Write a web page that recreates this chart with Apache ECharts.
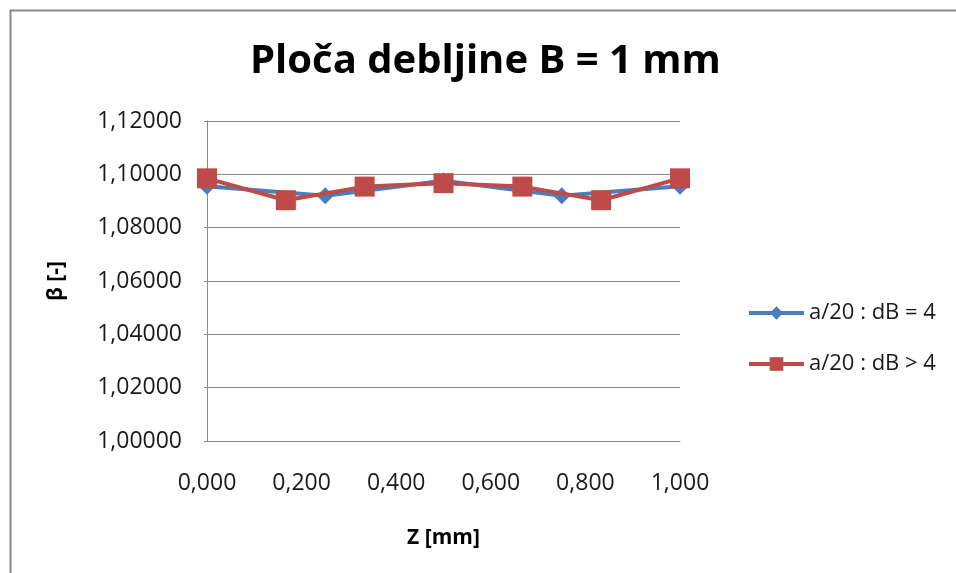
<!DOCTYPE html>
<html>
<head>
<meta charset="utf-8">
<script src="https://cdn.jsdelivr.net/npm/echarts@6/dist/echarts.min.js"></script>
<style>html,body{margin:0;padding:0;background:#fff;}#c{width:956px;height:573px;}</style>
</head>
<body>
<div id="c"></div>
<script>
const titleText = 'Ploča debljine B = 1 mm';
const xName = 'Z [mm]';
const yName = 'β [-]';
const seriesNames = ['a/20 : dB = 4', 'a/20 : dB > 4'];
const zBlue = [0, 0.25, 0.5, 0.75, 1.0];
const betaBlue = [1.0955, 1.0920, 1.0976, 1.0920, 1.0955];
const zRed = [0, 0.1667, 0.3333, 0.5, 0.6667, 0.8333, 1.0];
const betaRed = [1.0985, 1.0903, 1.0954, 1.0967, 1.0954, 1.0903, 1.0985];

const FONT = 'Open Sans';
const chart = echarts.init(document.getElementById('c'));
chart.setOption({
  backgroundColor: '#fff',
  animation: false,
  textStyle: { fontFamily: FONT },
  title: {
    text: titleText, left: 250, top: 42, padding: 0,
    textStyle: { fontFamily: FONT, fontSize: 40, fontWeight: 'bold', color: '#000' }
  },
  graphic: [{
    type: 'rect', left: 8, top: 8, shape: { width: 1000, height: 1000 },
    style: { fill: 'none', stroke: '#888', lineWidth: 2 }, silent: true, z: -1
  }],
  legend: {
    orient: 'vertical', left: 747, top: 302, padding: 0, itemWidth: 55, itemHeight: 17, itemGap: 29,
    textStyle: { fontFamily: FONT, fontSize: 22, color: '#1a1a1a' },
    lineStyle: { width: 4 },
    data: seriesNames
  },
  grid: { left: 207, right: 276, top: 121, bottom: 132, containLabel: false },
  xAxis: {
    type: 'value', min: 0, max: 1, interval: 0.2,
    name: xName, nameLocation: 'middle', nameGap: 87,
    nameTextStyle: { fontFamily: FONT, fontSize: 21, fontWeight: 'bold', color: '#000' },
    axisLine: { show: true, lineStyle: { color: '#888', width: 1 } },
    axisTick: { show: false },
    splitLine: { show: false },
    axisLabel: { margin: 31, fontSize: 23, color: '#1a1a1a', formatter: v => v.toFixed(3).replace('.', ',') }
  },
  yAxis: {
    type: 'value', min: 1.0, max: 1.12, interval: 0.02,
    name: yName, nameLocation: 'middle', nameGap: 140, nameRotate: 90,
    nameTextStyle: { fontFamily: FONT, fontSize: 21, fontWeight: 'bold', color: '#000' },
    axisLine: { show: true, lineStyle: { color: '#888', width: 1 } },
    axisTick: { show: true, length: 3, lineStyle: { color: '#888' } },
    splitLine: { show: true, lineStyle: { color: '#888', width: 1 } },
    axisLabel: { margin: 25, fontSize: 23, color: '#1a1a1a', formatter: v => v.toFixed(5).replace('.', ',') }
  },
  series: [
    {
      name: seriesNames[0], type: 'line',
      data: zBlue.map((z, i) => [z, betaBlue[i]]),
      symbol: 'diamond', symbolSize: 17, showAllSymbol: true,
      lineStyle: { color: '#4A7EBB', width: 4 },
      itemStyle: { color: '#4A7EBB' }, z: 2
    },
    {
      name: seriesNames[1], type: 'line',
      data: zRed.map((z, i) => [z, betaRed[i]]),
      symbol: 'rect', symbolSize: 20, showAllSymbol: true,
      lineStyle: { color: '#BE4B48', width: 4 },
      itemStyle: { color: '#BE4B48' }, z: 3
    }
  ]
});
</script>
</body>
</html>
